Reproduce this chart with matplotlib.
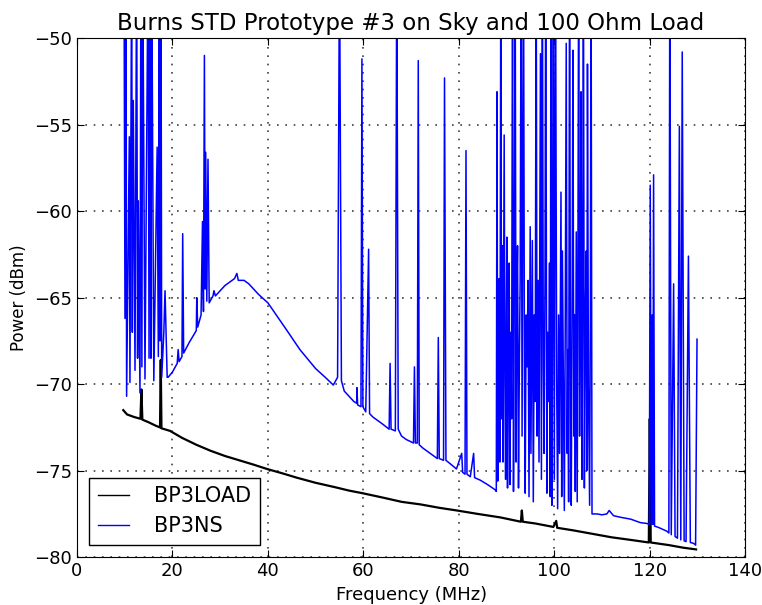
import matplotlib
matplotlib.use("Agg")
import matplotlib.pyplot as plt

# ==============================
# Data (MHz, dBm)
# ==============================
# BP3LOAD - 100 Ohm load reference
load_freq = [9.7, 10.5, 12.0, 13.3, 13.5, 13.7, 15.0, 16.5, 17.4, 17.55, 17.7,
             19.5, 22.0, 25.0, 28.0, 31.0, 34.0, 37.0, 39.8, 43.0, 46.0, 50.0,
             54.0, 57.0, 59.8, 64.0, 68.0, 72.0, 76.0, 79.6, 84.0, 88.7, 93.0,
             93.2, 93.4, 96.0, 99.8, 100.4, 100.6, 104.0, 108.0, 112.0, 116.0,
             119.8, 120.0, 120.2, 124.0, 127.0, 129.7]
load_power = [-71.5, -71.75, -71.9, -72.0, -70.3, -72.05, -72.2, -72.4, -72.5, -68.6, -72.55,
              -72.7, -73.1, -73.5, -73.85, -74.15, -74.4, -74.65, -74.9, -75.15, -75.4, -75.7,
              -75.95, -76.15, -76.3, -76.55, -76.8, -76.95, -77.15, -77.3, -77.5, -77.7, -77.95,
              -77.3, -77.95, -78.05, -78.25, -77.9, -78.3, -78.45, -78.65, -78.85, -79.0,
              -79.15, -72.0, -79.15, -79.3, -79.45, -79.55]

# BP3NS - sky, low band (10-19 MHz) full of strong spikes
ns_low_freq = [9.85, 10.06, 10.27, 10.4, 10.97, 11.1, 11.46, 11.6, 11.8, 12.16, 12.5,
               12.7, 12.85, 13.2, 13.4, 13.6, 13.77, 14.25, 14.9, 15.1, 15.3, 15.5,
               15.65, 16.1, 16.8, 17.05, 17.25, 17.4, 17.6, 17.75, 18.2, 18.45, 18.9]
ns_low_power = [-45, -66.2, -45, -70.7, -55.7, -69.9, -45, -67.0, -53.6, -69.2, -45,
                -68.5, -59.4, -70.5, -45, -69.0, -45, -69.7, -45, -68.5, -45, -68.5,
                -45, -69.8, -56.3, -68.4, -45, -67.5, -45, -69.6, -67.0, -64.6, -69.6]

# BP3NS - galactic hump and isolated carriers (19-88 MHz)
ns_mid_freq = [19.1, 20.0, 21.0, 21.2, 21.4, 22.0, 22.15, 22.35, 23.5, 25.0, 25.1, 25.3,
               26.0, 26.3, 26.5, 26.7, 26.85, 26.97, 27.2, 27.45, 27.7, 28.5, 28.7, 29.0,
               30.0, 31.0, 32.0, 33.0, 33.5, 33.8, 35.0, 36.0, 37.0, 38.0, 40.0, 42.0,
               44.0, 46.7, 48.8, 50.0, 52.0, 53.7, 54.6, 55.0, 55.4, 56.0, 57.0, 58.0,
               58.6, 58.65, 58.8, 59.5, 59.7, 59.9, 60.5, 61.1, 61.3, 62.0, 63.0, 64.0,
               65.4, 65.6, 65.8, 66.7, 67.0, 67.3, 68.0, 69.0, 70.5, 70.7, 70.9, 71.3,
               71.5, 71.7, 72.5, 74.0, 75.5, 75.7, 75.9, 76.8, 77.0, 77.3, 78.2, 79.5,
               80.6, 80.8, 81.3, 81.5, 81.7, 82.4, 83.1, 83.3, 84.5, 86.0, 87.6, 87.85]
ns_mid_power = [-69.6, -69.3, -68.8, -68.0, -68.7, -68.4, -61.3, -68.2, -67.6, -66.9, -65.0, -66.7,
                -66.0, -60.6, -65.8, -51.0, -64.5, -56.6, -65.2, -57.0, -65.3, -64.9, -64.6, -64.9,
                -64.6, -64.3, -64.1, -63.9, -63.6, -64.0, -64.0, -64.2, -64.5, -64.8, -65.3, -66.1,
                -66.9, -68.0, -68.7, -69.1, -69.6, -70.05, -69.6, -45, -69.8, -70.4, -70.7, -71.0,
                -71.1, -70.2, -71.2, -71.3, -51.2, -71.3, -71.6, -62.2, -71.7, -71.9, -72.1, -72.3,
                -72.6, -68.8, -72.6, -72.7, -45, -72.6, -73.0, -73.2, -73.4, -69.0, -73.4, -73.4,
                -51.3, -73.5, -73.7, -74.0, -74.3, -67.3, -74.3, -74.4, -52.3, -74.4, -74.6, -74.9,
                -74.0, -75.1, -75.2, -56.5, -75.2, -75.35, -74.0, -75.4, -75.55, -75.8, -76.1, -76.2]

# BP3NS - FM band (88-108 MHz)
ns_fm_freq = [88.0, 88.15, 88.3, 88.45, 88.6, 88.8, 88.95, 89.1, 89.25, 89.5, 89.65, 89.8,
              89.95, 90.06, 90.2, 90.4, 90.55, 90.7, 90.9, 91.05, 91.25, 91.45, 91.6, 91.8,
              92.0, 92.15, 92.3, 92.5, 92.7, 92.85, 93.06, 93.25, 93.55, 93.75, 93.9, 94.1,
              94.3, 94.5, 94.7, 94.95, 95.1, 95.4, 95.6, 95.8, 96.0, 96.2, 96.4, 96.6,
              96.8, 97.1, 97.3, 97.5, 97.7, 97.85, 98.05, 98.2, 98.45, 98.6, 98.8, 99.0,
              99.15, 99.3, 99.5, 99.65, 99.8, 100.0, 100.25, 100.5, 100.7, 100.9, 101.1, 101.4,
              101.55, 101.7, 101.9, 102.1, 102.3, 102.5, 102.7, 102.85, 103.0, 103.2, 103.4, 103.55,
              103.75, 103.9, 104.1, 104.25, 104.4, 104.6, 104.8, 104.95, 105.1, 105.3, 105.45, 105.6,
              105.8, 105.95, 106.1, 106.3, 106.5, 106.7, 106.8, 106.95, 107.15, 107.4, 107.55, 107.7,
              107.9]
ns_fm_power = [-53.1, -75.6, -68.0, -63.9, -74.5, -45, -72.0, -62.0, -74.5, -55.6, -70.0, -75.5,
               -66.0, -61.5, -76.0, -68.0, -63.0, -75.8, -67.0, -72.0, -45, -76.2, -66.0, -45,
               -74.5, -65.0, -62.0, -76.0, -68.0, -64.0, -45, -73.0, -45, -70.0, -76.3, -66.0,
               -69.0, -64.0, -76.5, -60.9, -74.0, -61.7, -76.8, -66.0, -71.0, -45, -73.0, -64.0,
               -74.5, -50.9, -75.5, -45, -69.0, -74.0, -64.0, -45, -76.3, -67.0, -71.0, -63.0,
               -76.5, -45, -77.0, -65.0, -45, -75.5, -45, -70.0, -77.2, -66.0, -74.0, -58.9,
               -76.5, -62.3, -70.0, -77.3, -66.0, -50.3, -74.0, -68.0, -76.8, -45, -72.0, -77.0,
               -64.0, -50.7, -73.0, -66.0, -76.2, -61.2, -76.8, -63.0, -45, -73.0, -65.0, -53.1,
               -75.5, -64.0, -45, -76.0, -66.0, -62.3, -75.0, -51.5, -70.0, -77.0, -66.0, -45,
               -77.5]

# BP3NS - upper band tail (108-130 MHz)
ns_high_freq = [109.0, 110.0, 111.0, 111.5, 112.4, 114.0, 116.0, 118.0, 119.4, 119.9,
                120.1, 120.3, 120.5, 120.65, 120.8, 121.0, 122.0, 123.6, 124.0, 124.2,
                124.5, 125.0, 125.3, 125.8, 126.2, 126.5, 126.8, 127.2, 127.6, 128.1,
                128.5, 129.2, 129.6, 129.9]
ns_high_power = [-77.5, -77.55, -77.5, -77.3, -77.6, -77.7, -77.8, -78.0, -78.05, -78.1,
                 -58.5, -78.1, -66.0, -78.1, -57.9, -78.2, -78.3, -78.5, -78.6, -45,
                 -78.7, -64.2, -78.8, -78.9, -55.1, -79.0, -50.8, -79.05, -79.1, -62.6,
                 -79.15, -79.2, -79.3, -67.4]

ns_freq = ns_low_freq + ns_mid_freq + ns_fm_freq + ns_high_freq
ns_power = ns_low_power + ns_mid_power + ns_fm_power + ns_high_power

# ==============================
# Plot
# ==============================
fig = plt.figure(figsize=(7.62, 6.05), dpi=100)
ax = fig.add_axes([0.101, 0.079, 0.877, 0.858])

ax.plot(load_freq, load_power, color="black", linewidth=1.6, label="BP3LOAD")
ax.plot(ns_freq, ns_power, color="blue", linewidth=1.1, label="BP3NS")

ax.set_xlim(0, 140)
ax.set_ylim(-80, -50)
ax.set_xticks(range(0, 141, 20))
ax.set_yticks(range(-80, -49, 5))
ax.tick_params(direction="in", top=True, right=True, labelsize=13, length=5)

ax.grid(True, color="black", linestyle=(0, (1, 4)), linewidth=1.2, alpha=0.75)

ax.set_title("Burns STD Prototype #3 on Sky and 100 Ohm Load", fontsize=16.5)
ax.set_xlabel("Frequency (MHz)", fontsize=13)
ax.set_ylabel("Power (dBm)", fontsize=12)

leg = ax.legend(loc="lower left", fontsize=15, handlelength=1.5, handletextpad=1.2,
                fancybox=False, borderaxespad=0.6)
for line in leg.get_lines():
    line.set_linewidth(1.0)
leg.get_frame().set_edgecolor("black")
leg.get_frame().set_alpha(1.0)

fig.savefig("out.png", dpi=100)
